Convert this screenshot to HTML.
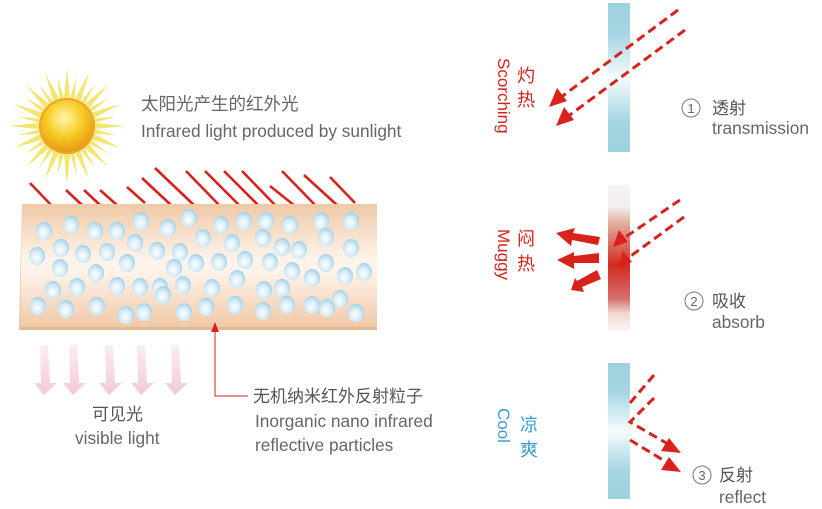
<!DOCTYPE html>
<html><head><meta charset="utf-8"><style>
html,body{margin:0;padding:0;background:#fff;}
svg{display:block;}
text{font-family:"Liberation Sans","Noto Sans CJK SC",sans-serif;}
</style></head><body>
<svg width="822" height="509" viewBox="0 0 822 509" xmlns="http://www.w3.org/2000/svg">
<defs>
<linearGradient id="slab" x1="0" y1="0" x2="0" y2="1">
<stop offset="0" stop-color="#efc9a6"/><stop offset="0.45" stop-color="#fdf3ea"/><stop offset="0.55" stop-color="#fdf3ea"/><stop offset="1" stop-color="#efc9a6"/>
</linearGradient>
<radialGradient id="bub" cx="0.45" cy="0.6" r="0.6">
<stop offset="0" stop-color="#ffffff"/><stop offset="0.6" stop-color="#d4ebf6"/><stop offset="1" stop-color="#9fd0ea"/>
</radialGradient>
<radialGradient id="sun" cx="0.45" cy="0.35" r="0.65">
<stop offset="0" stop-color="#fff6b0"/><stop offset="0.5" stop-color="#f8cf2a"/><stop offset="1" stop-color="#e89a10"/>
</radialGradient>
<linearGradient id="bar" x1="0" y1="0" x2="0" y2="1">
<stop offset="0" stop-color="#9ed1df"/><stop offset="0.2" stop-color="#a3d4e2"/><stop offset="0.5" stop-color="#f5fbfd"/><stop offset="0.8" stop-color="#a3d4e2"/><stop offset="1" stop-color="#9ed1df"/>
</linearGradient>
<linearGradient id="bar2" x1="0" y1="0" x2="0" y2="1">
<stop offset="0" stop-color="#f4f2f2"/><stop offset="0.15" stop-color="#f2f0ef"/><stop offset="0.25" stop-color="#e2b3a3"/><stop offset="0.55" stop-color="#d42a1e"/><stop offset="0.78" stop-color="#d47070"/><stop offset="0.88" stop-color="#f3d8d0"/><stop offset="1" stop-color="#fbf5f3"/>
</linearGradient>
<linearGradient id="pink" x1="0" y1="0" x2="0" y2="1">
<stop offset="0" stop-color="#fbeef0"/><stop offset="1" stop-color="#f3c9d1"/>
</linearGradient>
</defs>

<!-- Sun -->
<g transform="translate(67,126)">
<g fill="#f2e258" opacity="0.85">
<polygon points="-6,0 0,-58 6,0" transform="rotate(0)"/>
<polygon points="-6,0 0,-58 6,0" transform="rotate(22.5)"/>
<polygon points="-6,0 0,-58 6,0" transform="rotate(45)"/>
<polygon points="-6,0 0,-58 6,0" transform="rotate(67.5)"/>
<polygon points="-6,0 0,-58 6,0" transform="rotate(90)"/>
<polygon points="-6,0 0,-58 6,0" transform="rotate(112.5)"/>
<polygon points="-6,0 0,-58 6,0" transform="rotate(135)"/>
<polygon points="-6,0 0,-58 6,0" transform="rotate(157.5)"/>
<polygon points="-6,0 0,-58 6,0" transform="rotate(180)"/>
<polygon points="-6,0 0,-58 6,0" transform="rotate(202.5)"/>
<polygon points="-6,0 0,-58 6,0" transform="rotate(225)"/>
<polygon points="-6,0 0,-58 6,0" transform="rotate(247.5)"/>
<polygon points="-6,0 0,-58 6,0" transform="rotate(270)"/>
<polygon points="-6,0 0,-58 6,0" transform="rotate(292.5)"/>
<polygon points="-6,0 0,-58 6,0" transform="rotate(315)"/>
<polygon points="-6,0 0,-58 6,0" transform="rotate(337.5)"/>
<polygon points="-5,0 0,-50 5,0" transform="rotate(11)"/>
<polygon points="-5,0 0,-50 5,0" transform="rotate(34)"/>
<polygon points="-5,0 0,-50 5,0" transform="rotate(56)"/>
<polygon points="-5,0 0,-50 5,0" transform="rotate(79)"/>
<polygon points="-5,0 0,-50 5,0" transform="rotate(101)"/>
<polygon points="-5,0 0,-50 5,0" transform="rotate(124)"/>
<polygon points="-5,0 0,-50 5,0" transform="rotate(146)"/>
<polygon points="-5,0 0,-50 5,0" transform="rotate(169)"/>
<polygon points="-5,0 0,-50 5,0" transform="rotate(191)"/>
<polygon points="-5,0 0,-50 5,0" transform="rotate(214)"/>
<polygon points="-5,0 0,-50 5,0" transform="rotate(236)"/>
<polygon points="-5,0 0,-50 5,0" transform="rotate(259)"/>
<polygon points="-5,0 0,-50 5,0" transform="rotate(281)"/>
<polygon points="-5,0 0,-50 5,0" transform="rotate(304)"/>
<polygon points="-5,0 0,-50 5,0" transform="rotate(326)"/>
<polygon points="-5,0 0,-50 5,0" transform="rotate(349)"/>
</g>
<circle r="28" fill="#eba62a"/>
<circle r="26" fill="url(#sun)"/>
</g>
<text x="141" y="110" font-size="17.5" fill="#666">太阳光产生的红外光</text>
<text x="141" y="137" font-size="17.3" fill="#666">Infrared light produced by sunlight</text>

<!-- red IR lines -->
<g stroke="#d8221b" stroke-width="2.6">
<line x1="30" y1="183" x2="52" y2="206"/>
<line x1="66" y1="190" x2="83" y2="206"/>
<line x1="84" y1="190" x2="101" y2="206"/>
<line x1="100" y1="190" x2="118" y2="206"/>
<line x1="127" y1="187" x2="145" y2="203"/>
<line x1="142" y1="178" x2="172" y2="206"/>
<line x1="155" y1="168" x2="197" y2="208"/>
<line x1="186" y1="171" x2="220" y2="206"/>
<line x1="205" y1="171" x2="240" y2="206"/>
<line x1="224" y1="171" x2="259" y2="206"/>
<line x1="242" y1="171" x2="276" y2="206"/>
<line x1="270" y1="186" x2="295" y2="206"/>
<line x1="282" y1="171" x2="316" y2="206"/>
<line x1="304" y1="175" x2="338" y2="206"/>
<line x1="330" y1="177" x2="355" y2="203"/>
</g>

<!-- slab -->
<polygon points="22,204 377,204 377,330 19,330" fill="#e2b994" />
<polygon points="22,204 377,204 377,327 20,327" fill="url(#slab)"/>
<g fill="url(#bub)">
<ellipse cx="44" cy="231" rx="8" ry="9"/><ellipse cx="71" cy="225" rx="8" ry="9"/><ellipse cx="95" cy="231" rx="8" ry="9"/><ellipse cx="117" cy="231" rx="8" ry="9"/><ellipse cx="141" cy="221" rx="8" ry="9"/><ellipse cx="168" cy="228" rx="8" ry="9"/><ellipse cx="189" cy="218" rx="8" ry="9"/><ellipse cx="221" cy="225" rx="8" ry="9"/><ellipse cx="244" cy="221" rx="8" ry="9"/><ellipse cx="266" cy="221" rx="8" ry="9"/><ellipse cx="290" cy="225" rx="8" ry="9"/><ellipse cx="321" cy="221" rx="8" ry="9"/><ellipse cx="351" cy="221" rx="8" ry="9"/>
<ellipse cx="61" cy="248" rx="8" ry="9"/><ellipse cx="83" cy="254" rx="8" ry="9"/><ellipse cx="107" cy="252" rx="8" ry="9"/><ellipse cx="135" cy="243" rx="8" ry="9"/><ellipse cx="157" cy="251" rx="8" ry="9"/><ellipse cx="180" cy="252" rx="8" ry="9"/><ellipse cx="203" cy="238" rx="8" ry="9"/><ellipse cx="232" cy="243" rx="8" ry="9"/><ellipse cx="263" cy="238" rx="8" ry="9"/><ellipse cx="282" cy="247" rx="8" ry="9"/><ellipse cx="299" cy="250" rx="8" ry="9"/><ellipse cx="326" cy="237" rx="8" ry="9"/><ellipse cx="351" cy="248" rx="8" ry="9"/>
<ellipse cx="37" cy="256" rx="8" ry="9"/><ellipse cx="60" cy="268" rx="8" ry="9"/><ellipse cx="96" cy="273" rx="8" ry="9"/><ellipse cx="127" cy="263" rx="8" ry="9"/><ellipse cx="174" cy="268" rx="8" ry="9"/><ellipse cx="196" cy="263" rx="8" ry="9"/><ellipse cx="219" cy="262" rx="8" ry="9"/><ellipse cx="245" cy="260" rx="8" ry="9"/><ellipse cx="270" cy="262" rx="8" ry="9"/><ellipse cx="292" cy="271" rx="8" ry="9"/><ellipse cx="326" cy="263" rx="8" ry="9"/><ellipse cx="345" cy="276" rx="8" ry="9"/><ellipse cx="364" cy="272" rx="8" ry="9"/>
<ellipse cx="53" cy="290" rx="8" ry="9"/><ellipse cx="77" cy="287" rx="8" ry="9"/><ellipse cx="117" cy="286" rx="8" ry="9"/><ellipse cx="140" cy="287" rx="8" ry="9"/><ellipse cx="160" cy="287" rx="8" ry="9"/><ellipse cx="183" cy="285" rx="8" ry="9"/><ellipse cx="212" cy="288" rx="8" ry="9"/><ellipse cx="237" cy="279" rx="8" ry="9"/><ellipse cx="264" cy="290" rx="8" ry="9"/><ellipse cx="282" cy="288" rx="8" ry="9"/><ellipse cx="312" cy="278" rx="8" ry="9"/><ellipse cx="340" cy="299" rx="8" ry="9"/>
<ellipse cx="38" cy="306" rx="8" ry="9"/><ellipse cx="66" cy="309" rx="8" ry="9"/><ellipse cx="97" cy="306" rx="8" ry="9"/><ellipse cx="126" cy="315" rx="8" ry="9"/><ellipse cx="144" cy="312" rx="8" ry="9"/><ellipse cx="163" cy="295" rx="8" ry="9"/><ellipse cx="184" cy="312" rx="8" ry="9"/><ellipse cx="206" cy="307" rx="8" ry="9"/><ellipse cx="235" cy="305" rx="8" ry="9"/><ellipse cx="263" cy="311" rx="8" ry="9"/><ellipse cx="287" cy="305" rx="8" ry="9"/><ellipse cx="312" cy="305" rx="8" ry="9"/><ellipse cx="327" cy="308" rx="8" ry="9"/><ellipse cx="356" cy="313" rx="8" ry="9"/>
</g>

<!-- pointer -->
<polyline points="215,328 215,396 248,396" fill="none" stroke="#d8221b" stroke-width="1"/>
<polygon points="211,332 215,322 219,332" fill="#d8221b"/>
<text x="253" y="402" font-size="17" fill="#555">无机纳米红外反射粒子</text>
<text x="255" y="427" font-size="17.3" fill="#666">Inorganic nano infrared</text>
<text x="255" y="451" font-size="17.3" fill="#666">reflective particles</text>

<!-- visible light arrows -->
<g fill="url(#pink)">
<polygon points="40,345 48,345 50,383 57,383 44,395 34,383 41,383"/>
<polygon points="69,345 77,345 79,383 86,383 73,395 63,383 70,383"/>
<polygon points="105,345 113,345 115,383 122,383 109,395 99,383 106,383"/>
<polygon points="137,345 145,345 147,383 154,383 141,395 131,383 138,383"/>
<polygon points="171,345 179,345 181,383 188,383 175,395 165,383 172,383"/>
</g>
<text x="92" y="420" font-size="17" fill="#555">可见光</text>
<text x="75" y="444" font-size="17.3" fill="#666">visible light</text>

<!-- Panel 1 -->
<rect x="608" y="3" width="22" height="149" fill="url(#bar)"/>
<g stroke="#d8221b" stroke-width="3" stroke-dasharray="9,5" fill="none">
<line x1="678" y1="10" x2="560" y2="98"/>
<line x1="685" y1="30" x2="567" y2="117"/>
</g>
<polygon points="549,107 557,88 567,101" fill="#d8221b"/>
<polygon points="556,126 564,107 574,120" fill="#d8221b"/>
<text x="517" y="82" font-size="18" fill="#d8221b">灼</text>
<text x="517" y="106" font-size="18" fill="#d8221b">热</text>
<text transform="translate(498,58) rotate(90)" font-size="17" fill="#d8221b">Scorching</text>
<circle cx="691" cy="108" r="9" fill="none" stroke="#777" stroke-width="1"/>
<text x="691" y="113" font-size="13" fill="#666" text-anchor="middle">1</text>
<text x="712" y="114" font-size="17" fill="#555">透射</text>
<text x="712" y="134" font-size="17.3" fill="#666">transmission</text>

<!-- Panel 2 -->
<rect x="608" y="185" width="22" height="146" fill="url(#bar2)"/>
<g stroke="#d8221b" stroke-width="3" stroke-dasharray="9,5" fill="none">
<line x1="680" y1="200" x2="624" y2="238"/>
<line x1="684" y1="217" x2="628" y2="258"/>
</g>
<polygon points="613,247 619,230 628,242" fill="#d8221b"/>
<polygon points="618,268 623,251 632,262" fill="#d8221b"/>
<g fill="#d8221b">
<polygon points="600,237 598,245 572,240 571,246 556,233 575,228 573,233"/>
<polygon points="599,253 599,263 574,263 574,269 557,260 574,252 574,256"/>
<polygon points="597,270 601,279 582,287 584,292 571,290 575,278 577,281"/>
</g>
<text x="517" y="245" font-size="18" fill="#d8221b">闷</text>
<text x="517" y="270" font-size="18" fill="#d8221b">热</text>
<text transform="translate(498,229) rotate(90)" font-size="17" fill="#d8221b">Muggy</text>
<circle cx="694" cy="301" r="9" fill="none" stroke="#777" stroke-width="1"/>
<text x="694" y="306" font-size="13" fill="#666" text-anchor="middle">2</text>
<text x="712" y="307" font-size="17" fill="#555">吸收</text>
<text x="712" y="328" font-size="17.3" fill="#666">absorb</text>

<!-- Panel 3 -->
<rect x="608" y="363" width="22" height="136" fill="url(#bar)"/>
<g stroke="#d8221b" stroke-width="3" stroke-dasharray="9,5" fill="none">
<line x1="654" y1="375" x2="630" y2="403"/>
<polyline points="654,398 630,422 668,444"/>
<line x1="630" y1="440" x2="668" y2="463"/>
</g>
<polygon points="681,453 661,451 669,438" fill="#d8221b"/>
<polygon points="681,472 661,470 669,457" fill="#d8221b"/>
<text x="520" y="431" font-size="18" fill="#3a9bd5">凉</text>
<text x="520" y="456" font-size="18" fill="#3a9bd5">爽</text>
<text transform="translate(498,408) rotate(90)" font-size="17" fill="#3a9bd5">Cool</text>
<circle cx="702" cy="475" r="9" fill="none" stroke="#777" stroke-width="1"/>
<text x="702" y="480" font-size="13" fill="#666" text-anchor="middle">3</text>
<text x="719" y="481" font-size="17" fill="#555">反射</text>
<text x="719" y="503" font-size="17.3" fill="#666">reflect</text>
</svg>
</body></html>
